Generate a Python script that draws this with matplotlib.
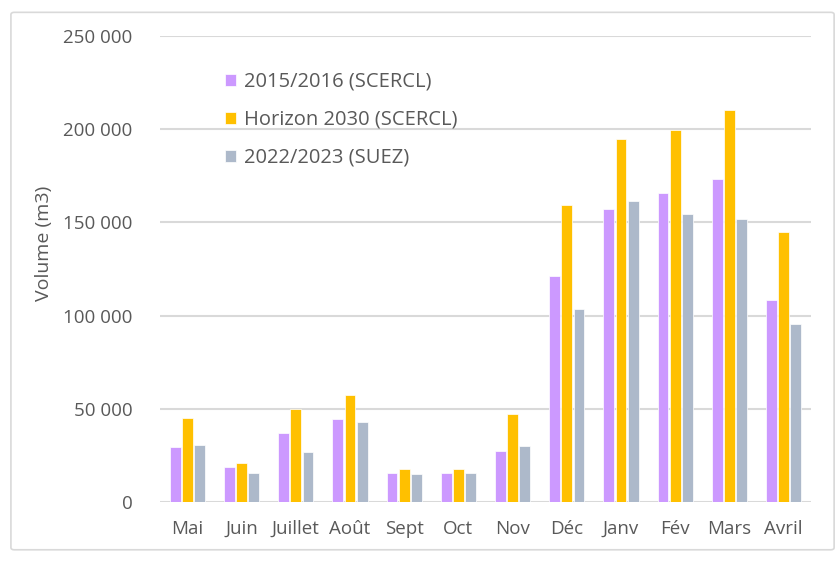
import numpy as np
import matplotlib.pyplot as plt
from matplotlib.patches import FancyBboxPatch
from matplotlib.ticker import FuncFormatter

plt.rcParams['font.family'] = ['Open Sans', 'DejaVu Sans']

mois = ['Mai', 'Juin', 'Juillet', 'Août', 'Sept', 'Oct', 'Nov',
        'Déc', 'Janv', 'Fév', 'Mars', 'Avril']
v_2015 = [29300, 18900, 37100, 44300, 15500, 15500, 27300,
          121500, 157400, 166000, 173100, 108400]
v_2030 = [44900, 20700, 49700, 57300, 17500, 17500, 47500,
          159300, 194700, 199400, 210200, 144900]
v_2022 = [30500, 15500, 26600, 43000, 14800, 15500, 30000,
          103800, 161300, 154700, 151700, 95400]
series = ['2015/2016 (SCERCL)', 'Horizon 2030 (SCERCL)', '2022/2023 (SUEZ)']
colors = ['#CC99FF', '#FFC000', '#ADB9CA']

fig = plt.figure(figsize=(8.4, 5.61), dpi=100)
# chart border
fig.patches.append(FancyBboxPatch((0.013, 0.02), 0.98, 0.958,
                                  boxstyle='round,pad=0,rounding_size=0.004',
                                  transform=fig.transFigure, fill=False,
                                  edgecolor='#D9D9D9', linewidth=1.2))

ax = fig.add_axes([0.191, 0.105, 0.774, 0.831])
x = np.arange(len(mois))
w = 0.2
for i, (vals, lab, c) in enumerate(zip([v_2015, v_2030, v_2022], series, colors)):
    ax.bar(x + (i - 1) * 0.225, vals, width=w, color=c, label=lab,
           edgecolor='white', linewidth=0.5, zorder=3)

ax.set_xlim(-0.5, 11.5)
ax.set_ylim(0, 250000)
ax.set_yticks(np.arange(0, 250001, 50000))
ax.yaxis.set_major_formatter(FuncFormatter(lambda v, p: f'{int(v):,}'.replace(',', ' ')))
ax.set_xticks(x)
ax.set_xticklabels(mois)
ax.grid(axis='y', color='#D9D9D9', linewidth=1.5, zorder=0)
for s in ax.spines.values():
    s.set_visible(False)
ax.tick_params(length=0, labelsize=13.5, colors='#595959')
ax.tick_params(axis='y', pad=20)
ax.tick_params(axis='x', pad=13)
ax.set_ylabel('Volume (m3)', fontsize=14, color='#595959')
ax.yaxis.set_label_coords(-0.165, 0.555)

leg = ax.legend(loc='upper left', bbox_to_anchor=(0.072, 0.962), frameon=False,
                fontsize=14.5, handlelength=0.55, handleheight=0.55,
                handletextpad=0.35, labelspacing=0.9, labelcolor='#595959')

fig.savefig('out.png', dpi=100)
